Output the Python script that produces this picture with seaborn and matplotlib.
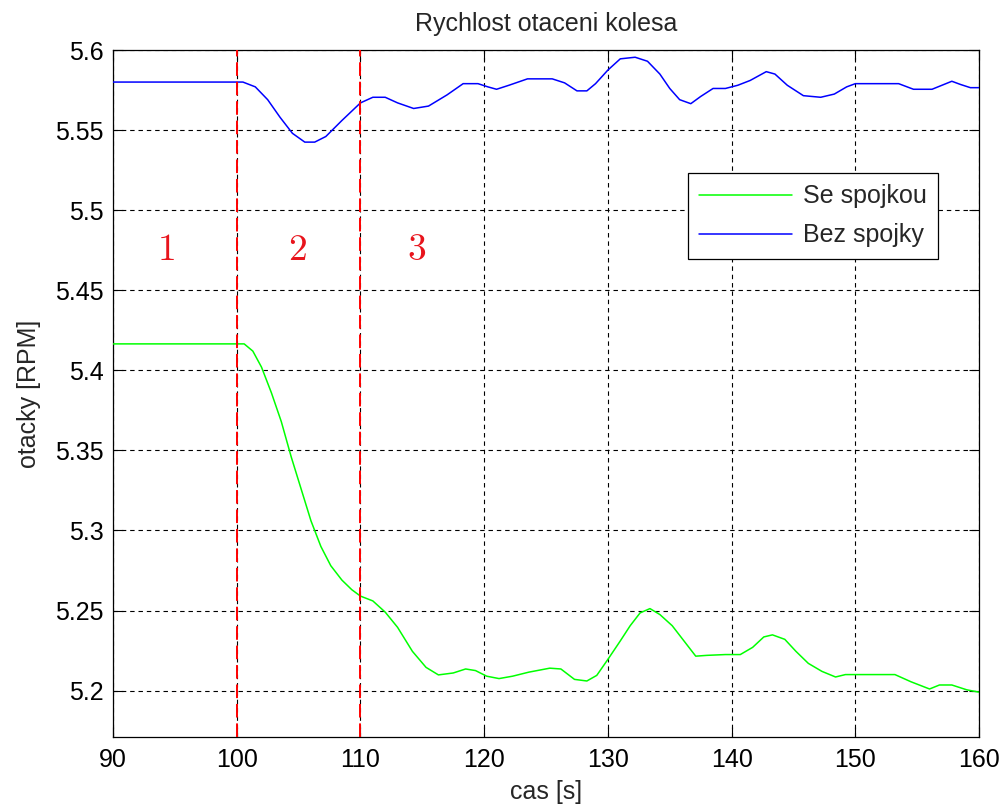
import numpy as np
import pandas as pd
import matplotlib
matplotlib.use("Agg")
import matplotlib.pyplot as plt
import seaborn as sns

# --- data ---
t_se = [90, 100, 100.6, 101.3, 102, 102.8, 103.6, 104.4, 105.2, 106, 106.8,
        107.6, 108.5, 109.3, 110, 111, 112, 113, 114.2, 115.3, 116.3, 117.5,
        118.5, 119.3, 120.2, 121.2, 122.3, 123.6, 125.3, 126.2, 127.3, 128.3,
        129.1, 130, 131, 131.8, 132.6, 133.4, 134.2, 135.2, 136.2, 137.1, 138,
        139.5, 140.7, 141.7, 142.6, 143.3, 144.3, 145.2, 146.2, 147.3, 148.4,
        149.2, 153.2, 154.5, 156, 156.8, 157.8, 159, 160]
rpm_se = [5.4165, 5.4165, 5.4165, 5.412, 5.402, 5.386, 5.368, 5.346, 5.326,
          5.306, 5.290, 5.278, 5.269, 5.263, 5.259, 5.256, 5.249, 5.2395,
          5.2245, 5.2145, 5.2098, 5.211, 5.2135, 5.2125, 5.209, 5.2075, 5.209,
          5.2115, 5.214, 5.2135, 5.207, 5.206, 5.2095, 5.2195, 5.231, 5.2405,
          5.2485, 5.2512, 5.2475, 5.2405, 5.2305, 5.2215, 5.222, 5.2225,
          5.2225, 5.227, 5.2335, 5.2348, 5.232, 5.2245, 5.217, 5.212, 5.2085,
          5.21, 5.21, 5.2055, 5.201, 5.2035, 5.2035, 5.2005, 5.199]

t_bez = [90, 100, 100.5, 101.5, 102.5, 103.5, 104.5, 105.5, 106.3, 107.2,
         108.5, 110, 111, 112, 113, 114.3, 115.5, 117, 118.3, 119.5, 120.3,
         121, 122, 123.5, 125.5, 126.5, 127.5, 128.3, 129, 130, 131, 132.2,
         133.2, 134.2, 135, 135.8, 136.7, 137.5, 138.5, 139.5, 140.5, 141.5,
         142.8, 143.5, 144.5, 145.8, 147.2, 148.3, 149.3, 150, 153.5, 154.7,
         156.2, 157.8, 158.5, 159.3, 160]
rpm_bez = [5.58, 5.58, 5.58, 5.577, 5.569, 5.558, 5.548, 5.5425, 5.5425,
           5.546, 5.556, 5.567, 5.5705, 5.5705, 5.567, 5.5635, 5.565, 5.572,
           5.579, 5.579, 5.577, 5.5755, 5.578, 5.582, 5.582, 5.5795, 5.5745,
           5.5745, 5.579, 5.5875, 5.5945, 5.5955, 5.593, 5.585, 5.576, 5.569,
           5.5665, 5.571, 5.576, 5.576, 5.578, 5.581, 5.5865, 5.585, 5.578,
           5.5715, 5.5705, 5.5725, 5.577, 5.579, 5.579, 5.5755, 5.5755,
           5.5805, 5.5785, 5.5765, 5.5765]

phase_bounds = [100, 110]
phase_labels = ["1", "2", "3"]
phase_x = [94.3, 104.9, 114.5]
phase_y = 5.475

x_ticks = [90, 100, 110, 120, 130, 140, 150, 160]
y_ticks = [5.2, 5.25, 5.3, 5.35, 5.4, 5.45, 5.5, 5.55, 5.6]

df = pd.concat([
    pd.DataFrame({"t": t_se, "rpm": rpm_se, "serie": "Se spojkou"}),
    pd.DataFrame({"t": t_bez, "rpm": rpm_bez, "serie": "Bez spojky"}),
], ignore_index=True)

sns.set_style("ticks")
plt.rcParams["font.family"] = ["Liberation Sans", "DejaVu Sans"]
plt.rcParams["mathtext.fontset"] = "cm"

fig = plt.figure(figsize=(10.02, 8.07), dpi=100)
ax = fig.add_axes([0.1128, 0.0867, 0.8643, 0.8513])

ax.grid(True, color="black", linestyle=(0, (4, 3.5)), linewidth=0.8)
ax.set_axisbelow(True)

sns.lineplot(data=df, x="t", y="rpm", hue="serie",
             palette={"Se spojkou": "#00ff00", "Bez spojky": "#0000ff"},
             estimator=None, sort=False, linewidth=1.1, ax=ax, zorder=3)

for xb in phase_bounds:
    ax.axvline(xb, color="#ff0000", linestyle=(0, (7, 3)), linewidth=1.4, zorder=4)
for lab, xp in zip(phase_labels, phase_x):
    ax.text(xp, phase_y, "$" + lab + "$", color="#e8141c", fontsize=27,
            ha="center", va="center", zorder=5)

ax.set_xlim(90, 160)
ax.set_ylim(5.171, 5.6)
ax.set_xticks(x_ticks)
ax.set_yticks(y_ticks)
ax.set_yticklabels([f"{v:g}" for v in y_ticks])
ax.tick_params(direction="in", length=7, width=0.8, top=True, right=True,
               labelsize=18, colors="black")
ax.tick_params(axis="x", pad=8)
ax.tick_params(axis="y", pad=7)
for sp in ax.spines.values():
    sp.set_color("black")
    sp.set_linewidth(0.9)
    sp.set_visible(True)

ax.set_title("Rychlost otaceni kolesa", fontsize=18, pad=14)
ax.set_xlabel("cas [s]", fontsize=18, labelpad=6)
ax.set_ylabel("otacky [RPM]", fontsize=18, labelpad=10)

leg = ax.legend(loc="upper right", bbox_to_anchor=(0.953, 0.8207),
                borderaxespad=0, fontsize=18, frameon=True, fancybox=False,
                framealpha=1, edgecolor="black", handlelength=3.7,
                handletextpad=0.45, labelspacing=0.6, borderpad=0.45)
leg.get_frame().set_linewidth(0.9)

fig.savefig("out.png", dpi=100)
